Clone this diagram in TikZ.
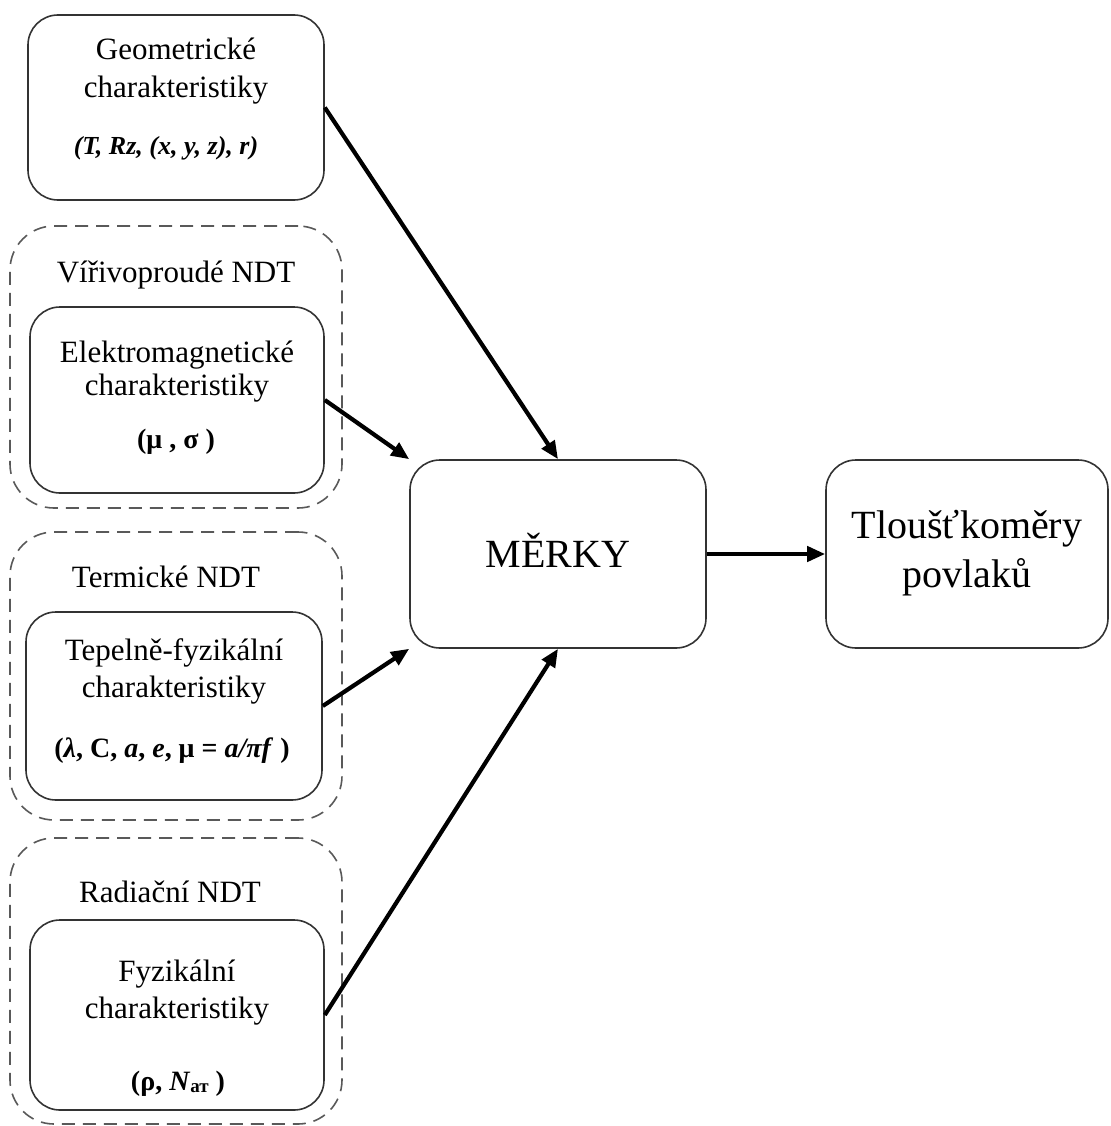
\documentclass[tikz,border=0pt]{standalone}
\usepackage{fontspec}
\setmainfont{Liberation Serif}
\usetikzlibrary{arrows.meta}
\begin{document}
\begin{tikzpicture}[x=1pt,y=-1pt,
  box/.style={draw=black!80, line width=1.6pt, rounded corners=30pt, inner sep=0pt, fill=white},
  grp/.style={draw=black!65, line width=1.6pt, dash pattern=on 13pt off 8pt, rounded corners=44pt, inner sep=0pt},
  arr/.style={line width=4.2pt, -{Triangle[length=18pt,width=15pt]}},
  lbl/.style={font=\fontsize{31}{36}\selectfont, anchor=base, inner sep=0pt},
  fml/.style={font=\fontsize{26}{30}\selectfont\bfseries, anchor=base, inner sep=0pt},
  fmlb/.style={font=\fontsize{28}{32}\selectfont\bfseries, anchor=base, inner sep=0pt},
  big/.style={font=\fontsize{40}{46}\selectfont, anchor=base, inner sep=0pt}]
\useasboundingbox (0,0) rectangle (1110,1126);
% groups
\node[grp, minimum width=332pt, minimum height=282pt] (g1) at (176,367) {};
\node[grp, minimum width=332pt, minimum height=288pt] (g2) at (176,676) {};
\node[grp, minimum width=332pt, minimum height=286pt] (g3) at (176,981) {};
% boxes
\node[box, minimum width=296pt, minimum height=185pt] (geo) at (176,107.5) {};
\node[box, minimum width=294pt, minimum height=186pt] (em) at (177,400) {};
\node[box, minimum width=296pt, minimum height=188pt] (tep) at (174,706) {};
\node[box, minimum width=294pt, minimum height=190pt] (fyz) at (177,1015) {};
\node[box, minimum width=296pt, minimum height=188pt] (merky) at (558,554) {};
\node[box, minimum width=282pt, minimum height=188pt] (tl) at (967,554) {};
% texts
\node[lbl] (geo1) at (176,60) {Geometrické};
\node[lbl] (geo2) at (176,98) {charakteristiky};
\node[fml] (geo3) at (166,155) {\itshape (T, Rz, (x, y, z), r)};
\node[lbl] (g1t) at (176,282) {Vířivoproudé NDT};
\node[lbl] (em1) at (177,362) {Elektromagnetické};
\node[lbl] (em2) at (177,395) {charakteristiky};
\node[fmlb] (em3) at (176,448) {(μ , σ )};
\node[lbl] (g2t) at (166,587) {Termické NDT};
\node[lbl] (tep1) at (174,660) {Tepelně-fyzikální};
\node[lbl] (tep2) at (174,697) {charakteristiky};
\node[fmlb] (tep3) at (172,757) {(\textit{λ}, C, \textit{a}, \textit{e}, μ = \textit{a/πf} )};
\node[lbl] (g3t) at (170,902) {Radiační NDT};
\node[lbl] (fyz1) at (177,981) {Fyzikální};
\node[lbl] (fyz2) at (177,1018) {charakteristiky};
\node[fmlb] (fyz3) at (178,1090) {(ρ, \textit{N}\raisebox{-2pt}{\fontsize{19}{20}\selectfont ат} )};
\node[big] (mk) at (558,567) {MĚRKY};
\node[big] (tl1) at (967,538) {Tloušťkoměry};
\node[big] (tl2) at (967,587) {povlaků};
% arrows
\draw[arr] (geo.east) -- (merky.north);
\draw[arr] (em.east) -- (merky.north west);
\draw[arr] (tep.east) -- (merky.south west);
\draw[arr] (fyz.east) -- (merky.south);
\draw[arr] (merky.east) -- (tl.west);
\end{tikzpicture}
\end{document}
